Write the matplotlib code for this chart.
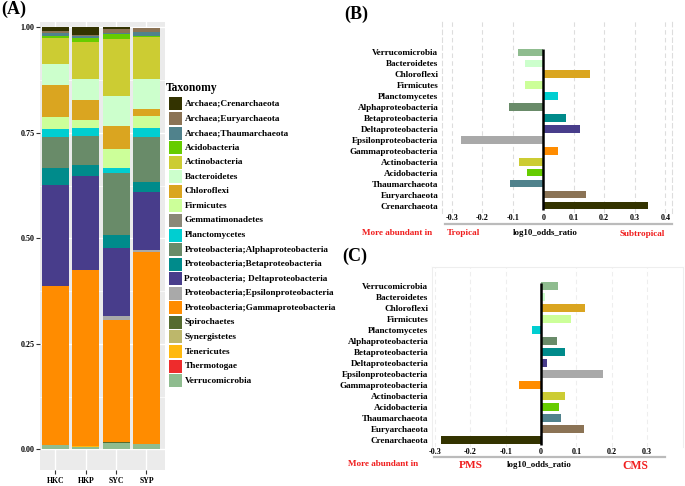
import matplotlib.pyplot as plt
from matplotlib.lines import Line2D

plt.rcParams['font.family'] = ['Liberation Serif', 'DejaVu Serif']
plt.rcParams['font.weight'] = 'bold'
plt.rcParams['axes.unicode_minus'] = False

W, H = 685, 486

# ---- panel A data: relative abundance per site (top of legend = top of stack)
taxa = ['Archaea;Crenarchaeota', 'Archaea;Euryarchaeota', 'Archaea;Thaumarchaeota',
        'Acidobacteria', 'Actinobacteria', 'Bacteroidetes', 'Chloroflexi', 'Firmicutes',
        'Gemmatimonadetes', 'Planctomycetes', 'Proteobacteria;Alphaproteobacteria',
        'Proteobacteria;Betaproteobacteria', 'Proteobacteria; Deltaproteobacteria',
        'Proteobacteria;Epsilonproteobacteria', 'Proteobacteria;Gammaproteobacteria',
        'Spirochaetes', 'Synergistetes', 'Tenericutes', 'Thermotogae', 'Verrucomicrobia']
taxa_colors = ['#333300', '#8B7355', '#50828C', '#66CC00', '#CCCC33', '#CCFFCC',
               '#DAA520', '#CCFF99', '#8B8878', '#00CED1', '#698B69', '#008B8B',
               '#483D8B', '#A9A9A9', '#FF8C00', '#556B2F', '#BDB76B', '#FFB90F',
               '#EE2C2C', '#8FBC8F']
sites = ['HKC', 'HKP', 'SYC', 'SYP']
hkc = [0.009, 0.005, 0.007, 0.005, 0.062, 0.050, 0.074, 0.030, 0.0, 0.019,
       0.073, 0.041, 0.238, 0.0, 0.377, 0.0, 0.0, 0.0, 0.0, 0.011]
hkp = [0.018, 0.004, 0.003, 0.010, 0.088, 0.049, 0.048, 0.020, 0.0, 0.019,
       0.068, 0.027, 0.222, 0.0, 0.416, 0.0, 0.0, 0.002, 0.0, 0.007]
syc = [0.004, 0.008, 0.003, 0.013, 0.135, 0.071, 0.053, 0.045, 0.0, 0.014,
       0.146, 0.030, 0.162, 0.008, 0.290, 0.003, 0.0, 0.0, 0.0, 0.015]
syp = [0.0, 0.010, 0.009, 0.003, 0.100, 0.071, 0.016, 0.029, 0.0, 0.020,
       0.107, 0.025, 0.137, 0.003, 0.457, 0.0, 0.0, 0.0, 0.0, 0.012]
site_values = [hkc, hkp, syc, syp]

# ---- panels B and C: log10 odds ratios (listed top to bottom)
phyla = ['Verrucomicrobia', 'Bacteroidetes', 'Chloroflexi', 'Firmicutes', 'Planctomycetes',
         'Alphaproteobacteria', 'Betaproteobacteria', 'Deltaproteobacteria',
         'Epsilonproteobacteria', 'Gammaproteobacteria', 'Actinobacteria',
         'Acidobacteria', 'Thaumarchaeota', 'Euryarchaeota', 'Crenarchaeota']
phyla_colors = ['#8FBC8F', '#CCFFCC', '#DAA520', '#CCFF99', '#00CED1', '#698B69',
                '#008B8B', '#483D8B', '#A9A9A9', '#FF8C00', '#CCCC33', '#66CC00',
                '#50828C', '#8B7355', '#333300']
odds_b = [-0.082, -0.060, 0.152, -0.060, 0.049, -0.111, 0.075, 0.122, -0.270,
          0.049, -0.080, -0.055, -0.109, 0.140, 0.344]
odds_c = [0.048, 0.012, 0.123, 0.085, -0.027, 0.044, 0.068, 0.016, 0.176,
          -0.061, 0.069, 0.052, 0.055, 0.120, -0.282]
ticks_b = [-0.3, -0.2, -0.1, 0, 0.1, 0.2, 0.3, 0.4]
ticks_c = [-0.3, -0.2, -0.1, 0, 0.1, 0.2, 0.3]


def px_rect(x0, y0, x1, y1):
    # pixel box (from top left) -> figure fraction
    return [x0 / W, 1 - y1 / H, (x1 - x0) / W, (y1 - y0) / H]


def fx(x):
    return x / W


def fy(y):
    return 1 - y / H


fig = plt.figure(figsize=(W / 100, H / 100), dpi=100)

# ---------------- panel A ----------------
ax_a = fig.add_axes(px_rect(40, 21.7, 165, 470))
ax_a.set_facecolor('#EBEBEB')
xs = list(range(1, len(sites) + 1))
for xi, vals in zip(xs, site_values):
    bottom = 0.0
    for v, c in zip(vals[::-1], taxa_colors[::-1]):
        if v > 0:
            ax_a.bar(xi, v, bottom=bottom, width=0.9, color=c, linewidth=0, zorder=3)
        bottom += v
ax_a.set_xlim(0.49, 4.61)
ax_a.set_ylim(-0.0486, 1.0137)
ax_a.set_xticks(xs)
ax_a.set_xticklabels(sites, fontsize=5.6)
ax_a.set_yticks([0, 0.25, 0.5, 0.75, 1.0])
ax_a.set_yticklabels(['0.00', '0.25', '0.50', '0.75', '1.00'], fontsize=5.8)
ax_a.set_yticks([0.125, 0.375, 0.625, 0.875], minor=True)
ax_a.grid(True, which='major', color='white', lw=1.0, zorder=0)
ax_a.grid(True, which='minor', axis='y', color='white', lw=0.5, zorder=0)
ax_a.tick_params(which='major', length=3, width=0.8, color='#333333', pad=1)
ax_a.tick_params(which='minor', length=0)
ax_a.tick_params(axis='x', pad=2)
for s in ax_a.spines.values():
    s.set_visible(False)

# legend, clipped on the right like the original
ax_l = fig.add_axes(px_rect(160, 78, 337, 392))
ax_l.set_xlim(160, 337)
ax_l.set_ylim(392, 78)
ax_l.axis('off')
ax_l.text(166, 88, 'Taxonomy', fontsize=8.3, va='center', ha='left')
step = 14.56
for i, (name, c) in enumerate(zip(taxa, taxa_colors)):
    yc = 104 + i * step
    ax_l.add_patch(plt.Rectangle((169, yc - 6.5), 13.3, 13, color=c, lw=0))
    ax_l.text(184.5, yc, name, fontsize=6.7, va='center', ha='left', clip_on=True)


# ---------------- panels B and C ----------------
def odds_panel(rect, values, ticks, xlim, ylim, grid_color, box):
    ax = fig.add_axes(rect)
    n = len(phyla)
    ys = [n - 1 - i for i in range(n)]
    ax.barh(ys, values, height=0.67, color=phyla_colors, linewidth=0, zorder=3)
    ax.vlines(0, -0.42, n - 0.7, color='black', lw=1.8, zorder=4)
    ax.set_xlim(*xlim)
    ax.set_ylim(*ylim)
    ax.set_yticks(ys)
    ax.set_yticklabels(phyla, fontsize=6.6)
    ax.set_xticks(ticks)
    ax.set_xticklabels(['0' if t == 0 else '%.1f' % t for t in ticks], fontsize=5.9)
    ax.tick_params(length=0, pad=1)
    ax.tick_params(axis='y', pad=2.5)
    for t in ticks:
        if t != 0:
            ax.axvline(t, color=grid_color, lw=0.8, ls=(0, (4, 3)), zorder=1)
    for side, s in ax.spines.items():
        if box and side in ('left', 'right', 'top'):
            s.set_color('#EEEEEE')
            s.set_linewidth(0.8)
        elif side in ('left', 'right'):
            s.set_color(grid_color)
            s.set_linestyle((0, (4, 3)))
            s.set_linewidth(0.8)
        else:
            s.set_visible(False)
    return ax


odds_panel(px_rect(441.7, 20, 671.7, 213), odds_b, ticks_b, (-0.333, 0.421),
           (-0.666, 16.94), '#DDDDDD', False)
odds_panel(px_rect(431.7, 267, 683, 447), odds_c, ticks_c, (-0.309, 0.401),
           (-0.636, 15.73), '#EEEEEE', True)

fig.add_artist(Line2D([fx(445), fx(672)], [fy(224), fy(224)], color='#BBBBBB', lw=1.6))
fig.add_artist(Line2D([fx(434), fx(665)], [fy(457.3), fy(457.3)], color='#BBBBBB', lw=1.6))

red = '#F01E1E'
fig.text(fx(396.7), fy(233), 'More abundant in', color=red, fontsize=6.6, ha='center', va='center')
fig.text(fx(463.5), fy(233), 'Tropical', color=red, fontsize=6.7, ha='center', va='center')
fig.text(fx(545), fy(233), 'log10_odds_ratio', fontsize=6.3, ha='center', va='center')
fig.text(fx(642), fy(234), 'Subtropical', color=red, fontsize=6.6, ha='center', va='center')

fig.text(fx(383), fy(464), 'More abundant in', color=red, fontsize=6.6, ha='center', va='center')
fig.text(fx(471), fy(465.7), 'PMS', color=red, fontsize=8.2, ha='center', va='center')
fig.text(fx(539), fy(464.5), 'log10_odds_ratio', fontsize=6.3, ha='center', va='center')
fig.text(fx(635), fy(465.7), 'CMS', color=red, fontsize=8.4, ha='center', va='center')

fig.text(fx(14), fy(9.5), '(A)', fontsize=13, ha='center', va='center')
fig.text(fx(356.5), fy(14), '(B)', fontsize=13, ha='center', va='center')
fig.text(fx(354.5), fy(256), '(C)', fontsize=13, ha='center', va='center')

fig.savefig('out.png', dpi=100)
